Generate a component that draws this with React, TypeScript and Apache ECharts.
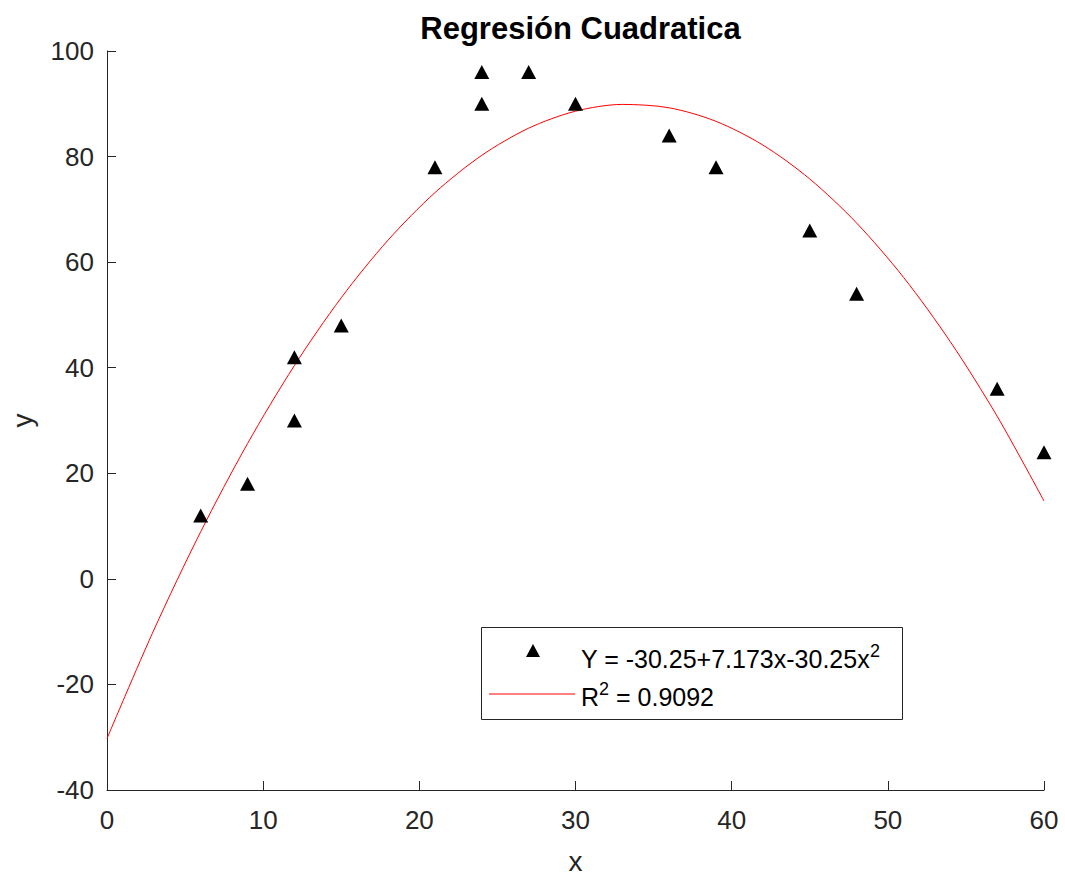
import React, { useEffect, useRef } from "react";
import * as echarts from "echarts";

const pointsX = [6, 9, 12, 12, 15, 21, 24, 24, 27, 30, 36, 39, 45, 48, 57, 60];
const pointsY = [12, 18, 42, 30, 48, 78, 96, 90, 96, 90, 84, 78, 66, 54, 36, 24];

const curveX = [0, 3, 6, 9, 12, 15, 18, 21, 24, 27, 30, 33, 36, 39, 42, 45, 48, 51, 54, 57, 60];
const curveY = [-30.25, -9.69, 8.93, 25.64, 40.41, 53.26, 64.18, 73.17, 80.24, 85.38, 88.6, 89.88, 89.24, 86.67, 82.18, 75.76, 67.41, 57.14, 44.93, 30.81, 14.75];

const xTicks = [0, 10, 20, 30, 40, 50, 60];
const yTicks = [-40, -20, 0, 20, 40, 60, 80, 100];

const titleText = "Regresión Cuadratica";
const legendLine1 = "Y = -30.25+7.173x-30.25x{sup|2}";
const legendLine2 = "R{sup|2} = 0.9092";

const FONT = "'Liberation Sans', Arial, Helvetica, sans-serif";
const AXIS = "#262626";

export default function App() {
  const ref = useRef<HTMLDivElement>(null);
  useEffect(() => {
    if (!ref.current) return;
    const chart = echarts.init(ref.current, undefined, { renderer: "svg" });
    const gridLeft = 107;
    const gridTop = 51;
    const gridW = 937;
    const gridH = 739;
    chart.setOption({
      animation: false,
      backgroundColor: "#ffffff",
      title: {
        text: titleText,
        left: gridLeft + gridW / 2,
        textAlign: "center",
        top: 8,
        textStyle: { fontFamily: FONT, fontSize: 31, fontWeight: "bold", color: "#000" },
      },
      grid: {
        left: gridLeft,
        top: gridTop,
        width: gridW,
        height: gridH,
        containLabel: false,
        outerBoundsMode: "none",
      },
      xAxis: {
        type: "value",
        min: xTicks[0],
        max: xTicks[xTicks.length - 1],
        interval: 10,
        name: "x",
        nameLocation: "middle",
        nameGap: 57,
        nameTextStyle: { fontFamily: FONT, fontSize: 28, color: AXIS },
        axisLine: { show: true, onZero: false, lineStyle: { color: AXIS, width: 1 } },
        axisTick: { show: true, inside: true, length: 9, lineStyle: { color: AXIS } },
        axisLabel: { fontFamily: FONT, fontSize: 26, color: AXIS, margin: 17 },
        splitLine: { show: false },
      },
      yAxis: {
        type: "value",
        min: yTicks[0],
        max: yTicks[yTicks.length - 1],
        interval: 20,
        name: "y",
        nameLocation: "middle",
        nameGap: 71,
        nameTextStyle: { fontFamily: FONT, fontSize: 28, color: AXIS },
        axisLine: { show: true, onZero: false, lineStyle: { color: AXIS, width: 1 } },
        axisTick: { show: true, inside: true, length: 9, lineStyle: { color: AXIS } },
        axisLabel: { fontFamily: FONT, fontSize: 26, color: AXIS, margin: 13 },
        splitLine: { show: false },
      },
      series: [
        {
          name: "data",
          type: "scatter",
          symbol: "triangle",
          symbolSize: [15, 14],
          itemStyle: { color: "#000", opacity: 1 },
          data: pointsX.map((x, i) => [x, pointsY[i]]),
          z: 3,
        },
        {
          name: "fit",
          type: "line",
          smooth: 0.3,
          showSymbol: false,
          lineStyle: { color: "#ff0000", width: 1 },
          data: curveX.map((x, i) => [x, curveY[i]]),
          z: 2,
        },
      ],
      graphic: [
        {
          type: "rect",
          shape: { x: 481.5, y: 627.5, width: 421, height: 92 },
          style: { fill: "#fff", stroke: AXIS, lineWidth: 1 },
          z: 10,
        },
        {
          type: "polygon",
          shape: { points: [[533, 644], [540, 657], [526, 657]] },
          style: { fill: "#000" },
          z: 11,
        },
        {
          type: "line",
          shape: { x1: 489, y1: 694, x2: 575, y2: 694 },
          style: { stroke: "#ff0000", lineWidth: 1 },
          z: 11,
        },
        {
          type: "text",
          x: 581,
          y: 659,
          style: {
            text: legendLine1,
            fontFamily: FONT,
            fontSize: 25,
            fill: "#000",
            verticalAlign: "middle",
            rich: { sup: { fontSize: 18, fontFamily: FONT, fill: "#000", padding: [0, 0, 16, 0] } },
          },
          z: 11,
        },
        {
          type: "text",
          x: 581,
          y: 697,
          style: {
            text: legendLine2,
            fontFamily: FONT,
            fontSize: 25,
            fill: "#000",
            verticalAlign: "middle",
            rich: { sup: { fontSize: 18, fontFamily: FONT, fill: "#000", padding: [0, 0, 16, 0] } },
          },
          z: 11,
        },
      ],
    });
    return () => chart.dispose();
  }, []);
  return (
    <div
      ref={ref}
      style={{ position: "absolute", left: 0, top: 0, width: 1065, height: 877 }}
    />
  );
}
